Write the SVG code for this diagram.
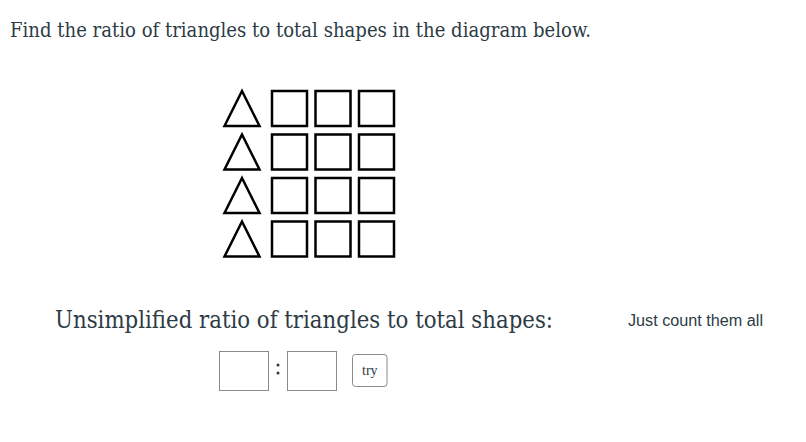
<svg xmlns="http://www.w3.org/2000/svg" width="806" height="442" viewBox="0 0 806 442">
<style>
.sh{fill:none;stroke:#000;stroke-width:2.5;stroke-linejoin:miter}
.t{font-family:"DejaVu Serif","Liberation Serif",serif;fill:#2d3b45}
.in{fill:#fff;stroke:#8a8a8a;stroke-width:1}
</style>
<defs>
<path id="tri" class="sh" d="M242 0 L259.5 35 L224.5 35 Z"/>
<rect id="sq" class="sh" width="35" height="35"/>
</defs>
<rect width="806" height="442" fill="#fff"/>
<text class="t" x="10" y="37" font-size="20" textLength="581" lengthAdjust="spacingAndGlyphs">Find the ratio of triangles to total shapes in the diagram below.</text>
<g id="shapes">
<g id="row1"><use href="#tri" y="91"/><use href="#sq" x="272" y="91"/><use href="#sq" x="315.5" y="91"/><use href="#sq" x="359" y="91"/></g>
<g id="row2"><use href="#tri" y="134.5"/><use href="#sq" x="272" y="134.5"/><use href="#sq" x="315.5" y="134.5"/><use href="#sq" x="359" y="134.5"/></g>
<g id="row3"><use href="#tri" y="178"/><use href="#sq" x="272" y="178"/><use href="#sq" x="315.5" y="178"/><use href="#sq" x="359" y="178"/></g>
<g id="row4"><use href="#tri" y="221.5"/><use href="#sq" x="272" y="221.5"/><use href="#sq" x="315.5" y="221.5"/><use href="#sq" x="359" y="221.5"/></g>
</g>
<text class="t" x="55" y="328" font-size="24" textLength="498" lengthAdjust="spacingAndGlyphs">Unsimplified ratio of triangles to total shapes:</text>
<text x="628" y="326" font-family="'Liberation Sans','DejaVu Sans',sans-serif" font-size="16" fill="#2d3b45" textLength="135" lengthAdjust="spacingAndGlyphs">Just count them all</text>
<g id="answer">
<rect class="in" x="219.5" y="351.5" width="49" height="39"/>
<circle cx="278" cy="365" r="1.5" fill="#2d3b45"/>
<circle cx="278" cy="373" r="1.5" fill="#2d3b45"/>
<rect class="in" x="287.5" y="351.5" width="49" height="39"/>
<rect x="352.5" y="354.5" width="34.5" height="32" rx="3" fill="#fff" stroke="#8a8a8a" stroke-width="1"/>
<text x="369.8" y="375" font-family="'Liberation Serif',serif" font-size="14" fill="#2d3b45" text-anchor="middle">try</text>
</g>
</svg>
